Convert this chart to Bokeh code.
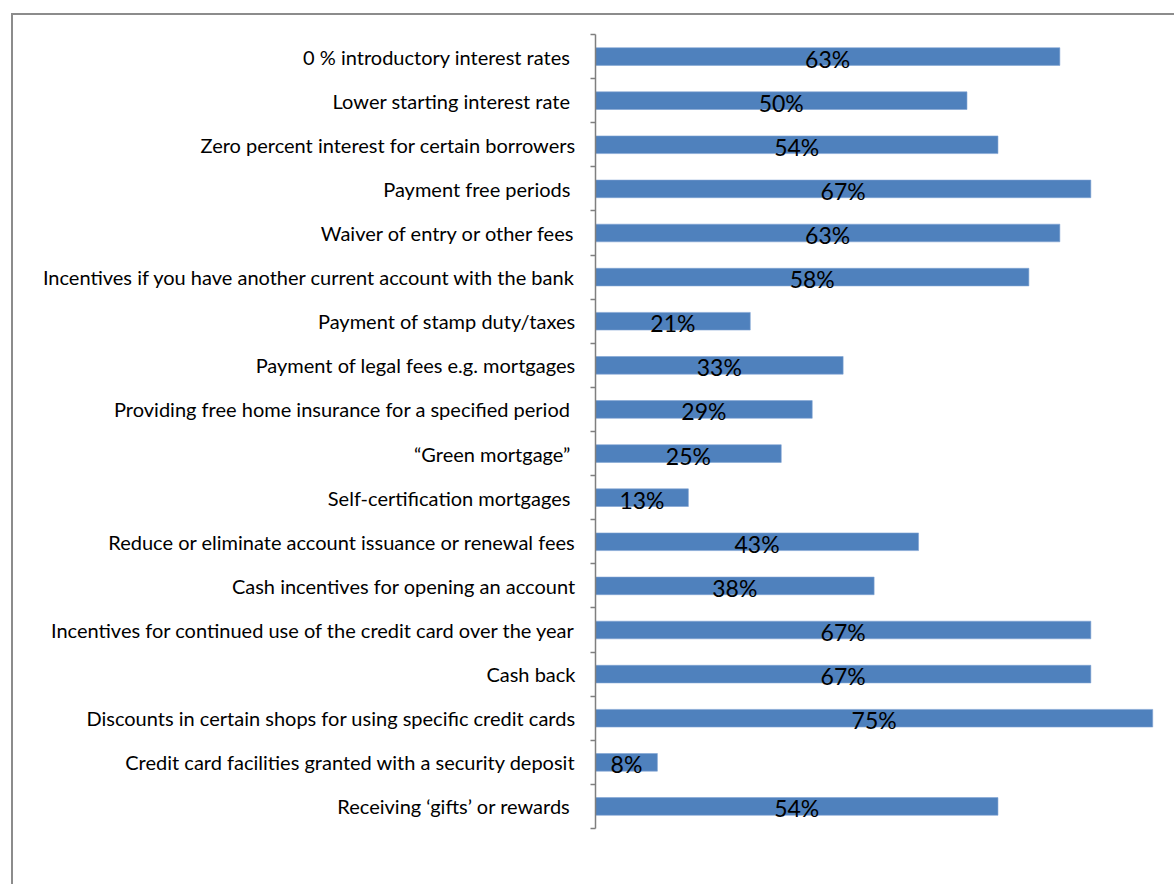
from bokeh.plotting import figure
from bokeh.models import ColumnDataSource, Range1d, FixedTicker
from bokeh.core.properties import value
from bokeh.embed import file_html
from bokeh.resources import INLINE

categories = [
    "0 % introductory interest rates ",
    "Lower starting interest rate ",
    "Zero percent interest for certain borrowers",
    "Payment free periods ",
    "Waiver of entry or other fees",
    "Incentives if you have another current account with the bank",
    "Payment of stamp duty/taxes",
    "Payment of legal fees e.g. mortgages",
    "Providing free home insurance for a specified period ",
    "\u201cGreen mortgage\u201d ",
    "Self-certification mortgages ",
    "Reduce or eliminate account issuance or renewal fees",
    "Cash incentives for opening an account",
    "Incentives for continued use of the credit card over the year",
    "Cash back",
    "Discounts in certain shops for using specific credit cards",
    "Credit card facilities granted with a security deposit",
    "Receiving \u2018gifts\u2019 or rewards ",
]
values = [62.5, 50.0, 54.17, 66.67, 62.5, 58.33, 20.83, 33.33, 29.17, 25.0,
          12.5, 43.48, 37.5, 66.67, 66.67, 75.0, 8.33, 54.17]
value_labels = ["63%", "50%", "54%", "67%", "63%", "58%", "21%", "33%", "29%", "25%",
                "13%", "43%", "38%", "67%", "67%", "75%", "8%", "54%"]

n = len(categories)
centers = [i + 0.5 for i in range(n)]
source = ColumnDataSource(dict(
    y=centers,
    v=values,
    half=[v / 2 for v in values],
    lab=value_labels,
))

p = figure(
    width=1163, height=871,
    x_range=Range1d(0, 78.2),
    y_range=Range1d(n, 0),
    output_backend="svg",
    toolbar_location=None,
    min_border_left=582, min_border_top=19, min_border_bottom=58, min_border_right=0,
)
p.margin = (13, 0, 0, 11)
p.styles = {"border-left": "2px solid #8c8c8c", "border-top": "2px solid #8c8c8c"}
p.outline_line_color = None
p.xgrid.visible = False
p.ygrid.visible = False
p.xaxis.visible = False

p.hbar(y="y", right="v", left=0, height=0.4, source=source,
       fill_color="#4F81BD", line_color="#7FA3D3", line_width=0.6)

p.text(x="half", y="y", text="lab", source=source,
       text_align="center", text_baseline="middle", y_offset=2,
       text_font=value("Lato"), text_font_size="23px", text_color="#000000")

yax = p.yaxis[0]
yax.ticker = FixedTicker(ticks=centers, minor_ticks=list(range(n + 1)))
yax.major_label_overrides = {c: categories[i] for i, c in enumerate(centers)}
yax.major_tick_line_color = None
yax.major_tick_out = 0
yax.major_tick_in = 0
yax.minor_tick_line_color = "#7f7f7f"
yax.minor_tick_out = 5
yax.minor_tick_in = 0
yax.minor_tick_line_width = 1.5
yax.axis_line_color = "#7f7f7f"
yax.axis_line_width = 1.5
yax.major_label_standoff = 15
yax.major_label_text_font = "Lato"
yax.major_label_text_font_size = "20px"
yax.major_label_text_color = "#000000"

open("out.html", "w").write(file_html(p, INLINE))
